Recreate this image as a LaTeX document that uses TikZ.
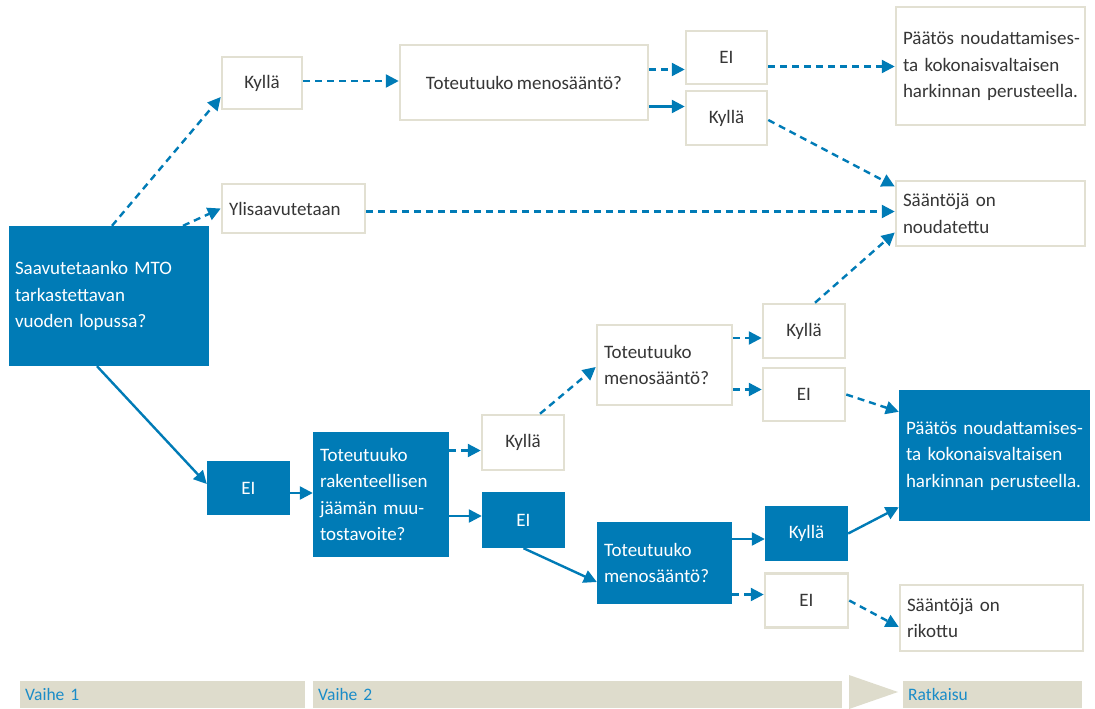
\documentclass[tikz,border=0pt]{standalone}
\usepackage{fontspec}
\setmainfont{Carlito}[WordSpace=0.8]
\usetikzlibrary{arrows.meta}
\definecolor{mainblue}{HTML}{007BB6}
\definecolor{beigeline}{HTML}{E2E0D2}
\definecolor{footfill}{HTML}{DEDCCC}
\definecolor{txtgray}{HTML}{363636}
\definecolor{foottxt}{HTML}{1A8CC8}
\newcommand{\keepline}[1]{\mbox{#1}}
\tikzset{
  wbox/.style={draw=beigeline, line width=2.5pt, fill=white, text=txtgray, inner xsep=7pt, inner ysep=0pt, font=\fontsize{19}{26.5}\selectfont},
  bbox/.style={fill=mainblue, draw=none, text=white, inner xsep=7pt, inner ysep=0pt, font=\fontsize{19}{26.5}\selectfont},
  con/.style={draw=mainblue, line width=2.4pt, -{Triangle[length=13pt,width=13pt]}},
  dcon/.style={con, dash pattern=on 7pt off 5pt},
  footbar/.style={fill=footfill, draw=none, text=foottxt, inner xsep=5pt, inner ysep=0pt, minimum height=27pt, anchor=north west, align=left, font=\fontsize{17.5}{19}\selectfont},
}
\begin{document}
\begin{tikzpicture}[x=1pt,y=-1pt]
\useasboundingbox (0,0) rectangle (1095,709);
% nodes
\node[bbox, text width=188pt, minimum height=140pt, inner xsep=6pt, align=left] (main) at (109,296) {\keepline{Saavutetaanko MTO}\\tarkastettavan\\\keepline{vuoden lopussa?}};
\node[wbox, minimum width=80pt, minimum height=52pt] (k1) at (262,83) {Kyllä};
\node[wbox, text width=129pt, minimum height=49pt, align=left] (yli) at (293.5,208.5) {Ylisaavutetaan};
\node[wbox, minimum width=248pt, minimum height=75pt] (t1) at (524,82.5) {Toteutuuko menosääntö?};
\node[wbox, minimum width=81pt, minimum height=53pt] (e1) at (726.5,57.5) {EI};
\node[wbox, minimum width=81pt, minimum height=54pt] (k2) at (726.5,118) {Kyllä};
\node[wbox, text width=175pt, minimum height=118pt, align=left] (p1) at (990.5,66) {\keepline{Päätös noudattamises-}\\\keepline{ta kokonaisvaltaisen}\\\keepline{harkinnan perusteella.}};
\node[wbox, text width=175pt, minimum height=65pt, align=left] (s1) at (990.5,213.5) {\keepline{Sääntöjä on}\\noudatettu};
\node[bbox, minimum width=83pt, minimum height=54pt] (e2) at (248.5,488) {EI};
\node[bbox, text width=122pt, minimum height=125pt, align=left] (t2) at (381,494.5) {Toteutuuko\\rakenteellisen\\\keepline{jäämän muu-}\\tostavoite?};
\node[wbox, minimum width=82pt, minimum height=55pt] (k3) at (523,442.5) {Kyllä};
\node[bbox, minimum width=83pt, minimum height=56pt] (e3) at (523.5,520) {EI};
\node[wbox, text width=121pt, minimum height=80pt, align=left] (t3) at (664.5,365) {Toteutuuko\\\keepline{menosääntö?}};
\node[wbox, minimum width=82pt, minimum height=54pt] (k4) at (804,331) {Kyllä};
\node[wbox, minimum width=82pt, minimum height=53pt] (e4) at (804,394.5) {EI};
\node[bbox, text width=177pt, minimum height=131pt, align=left] (p2) at (994.5,455.5) {\keepline{Päätös noudattamises-}\\\keepline{ta kokonaisvaltaisen}\\\keepline{harkinnan perusteella.}};
\node[bbox, text width=121pt, minimum height=82pt, align=left] (t4) at (664.5,563) {Toteutuuko\\\keepline{menosääntö?}};
\node[bbox, minimum width=83pt, minimum height=55pt] (k5) at (806.5,533.5) {Kyllä};
\node[wbox, minimum width=83pt, minimum height=54pt] (e5) at (806.5,600.5) {EI};
\node[wbox, text width=169pt, minimum height=66pt, align=left] (s2) at (991.5,618) {\keepline{Sääntöjä on}\\rikottu};
% footer
\node[footbar, text width=275pt] (v1) at (20,681) {Vaihe 1};
\node[footbar, text width=519pt] (v2) at (313,681) {Vaihe 2};
\node[footbar, text width=169pt] (rk) at (903,681) {Ratkaisu};
\coordinate (trtop) at (849,675);
\coordinate (trtip) at (898,692);
\coordinate (trbot) at (849,709);
\fill[footfill] (trtop) -- (trtip) -- (trbot) -- cycle;
% connectors
\draw[dcon] ([xshift=3pt]main.north) -- ([yshift=-14pt]k1.west);
\draw[dcon] ([xshift=74pt]main.north) -- (yli.west);
\draw[con] ([xshift=-12pt]main.south) -- ([yshift=4pt]e2.west);
\draw[dcon] ([yshift=2pt]k1.east) -- ([yshift=2pt]k1.east -| t1.west);
\draw[dcon] ([yshift=13pt]t1.east) -- ([yshift=13pt]t1.east -| e1.west);
\draw[con] ([yshift=-24pt]t1.east) -- ([yshift=-24pt]t1.east -| k2.west);
\draw[dcon] ([yshift=-9pt]e1.east) -- ([yshift=-9pt]e1.east -| p1.west);
\draw[dcon] ([yshift=-2pt]k2.east) -- ([yshift=27pt]s1.west);
\draw[dcon] ([yshift=-3pt]yli.east) -- ([yshift=-3pt]yli.east -| s1.west);
\draw[dcon] ([xshift=11pt]k4.north) -- ([yshift=-19pt]s1.west);
\draw[con] ([yshift=-5pt]e2.east) -- ([yshift=-5pt]e2.east -| t2.west);
\draw[dcon] ([yshift=-8pt]k3.west -| t2.east) -- ([yshift=-8pt]k3.west);
\draw[con] ([yshift=4pt]e3.west -| t2.east) -- ([yshift=4pt]e3.west);
\draw[dcon] ([xshift=17pt]k3.north) -- ([yshift=-2pt]t3.west);
\draw[con] (e3.south) -- ([yshift=-19pt]t4.west);
\draw[dcon] ([yshift=-7pt]k4.west -| t3.east) -- ([yshift=-7pt]k4.west);
\draw[dcon] ([yshift=5pt]e4.west -| t3.east) -- ([yshift=5pt]e4.west);
\draw[dcon] (e4.east) -- ([yshift=-22pt]p2.north west);
\draw[con] ([yshift=-5.5pt]k5.west -| t4.east) -- ([yshift=-5.5pt]k5.west);
\draw[dcon] ([yshift=6pt]e5.west -| t4.east) -- ([yshift=6pt]e5.west);
\draw[con] (k5.east) -- ([yshift=14pt]p2.south west);
\draw[dcon] (e5.east) -- ([yshift=-9pt]s2.west);
\end{tikzpicture}
\end{document}
